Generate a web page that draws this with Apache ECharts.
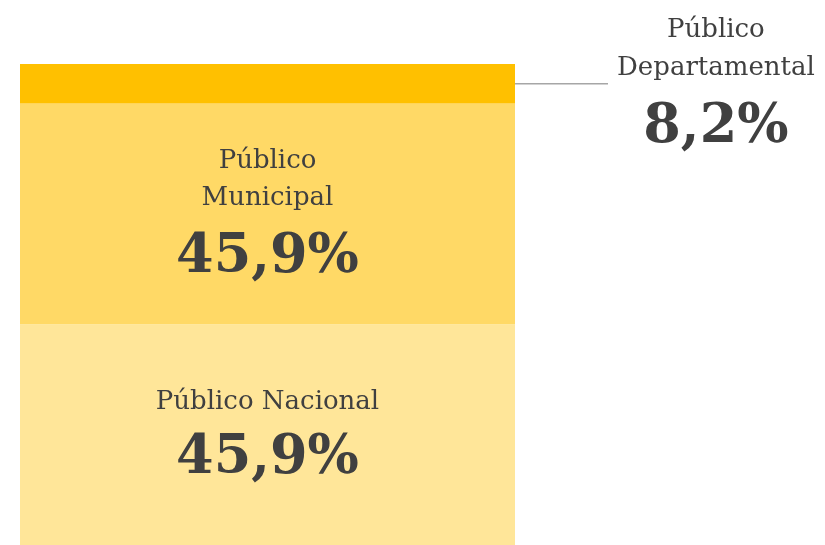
<!DOCTYPE html>
<html>
<head>
<meta charset="utf-8">
<script src="https://cdn.jsdelivr.net/npm/echarts@6/dist/echarts.min.js"></script>
<style>
  html, body { margin: 0; padding: 0; background: #fff; }
  #chart { width: 825px; height: 545px; }
</style>
</head>
<body>
<div id="chart"></div>
<script>
// Single stacked column: share of public sector by level (bottom → top)
const categories    = ['Total'];
const segmentNames  = ['Público Nacional', 'Público\nMunicipal', 'Público\nDepartamental'];
const segmentValues = [45.9, 45.9, 8.2];
const segmentLabels = ['45,9%', '45,9%', '8,2%'];
const segmentColors = ['#FFE699', '#FFD966', '#FFC000'];

const FONT = 'DejaVu Serif';
const TEXT = '#404040';
const GRID = { left: 20, right: 310, top: 64, bottom: 0 };

// per-label spacing tweaks (title line height, number line height, top pad)
const labelLayouts = [
  { tLH: 37, vLH: 77, padTop: 12 },
  { tLH: 37, vLH: 84, padTop: 15 },
  { tLH: 38, vLH: 81, padTop: 13 },
];

function richLabel(name, pct) {
  return name.split('\n').map(s => `{t|${s}}`).join('\n') + `\n{v|${pct}}`;
}

const series = segmentValues.map((v, i) => {
  const outside = i === segmentValues.length - 1; // small top slice is labelled beside the bar
  const lay = labelLayouts[i];
  return {
    type: 'bar',
    name: segmentNames[i],
    stack: 'total',
    data: [v],
    barWidth: '100%',
    itemStyle: { color: segmentColors[i] },
    label: {
      show: true,
      position: outside ? 'right' : 'inside',
      distance: outside ? 93 : 0,
      padding: outside ? [lay.padTop, 0, 0, 9] : [lay.padTop, 0, 0, 0],
      formatter: () => richLabel(segmentNames[i], segmentLabels[i]),
      rich: {
        t: { fontFamily: FONT, fontSize: 26, color: TEXT, lineHeight: lay.tLH, align: 'center' },
        v: { fontFamily: FONT, fontSize: 54, fontWeight: 'bold', color: TEXT, lineHeight: lay.vLH, align: 'center' },
      },
    },
  };
});

const chart = echarts.init(document.getElementById('chart'), null, { renderer: 'canvas' });
chart.setOption({
  animation: false,
  grid: GRID,
  xAxis: { type: 'category', data: categories, show: false },
  yAxis: { type: 'value', min: 0, max: 100, show: false },
  series,
});

// Leader line from the top slice's midpoint to its outside label
const total = segmentValues.reduce((a, b) => a + b, 0);
const topMid = total - segmentValues[segmentValues.length - 1] / 2;
const lineY = chart.convertToPixel({ yAxisIndex: 0 }, topMid);
const barRight = chart.getWidth() - GRID.right;
chart.setOption({
  graphic: [{
    type: 'line',
    shape: { x1: barRight, y1: lineY, x2: barRight + 93, y2: lineY },
    style: { stroke: '#A6A6A6', lineWidth: 1.5 },
    silent: true,
  }],
});
</script>
</body>
</html>
